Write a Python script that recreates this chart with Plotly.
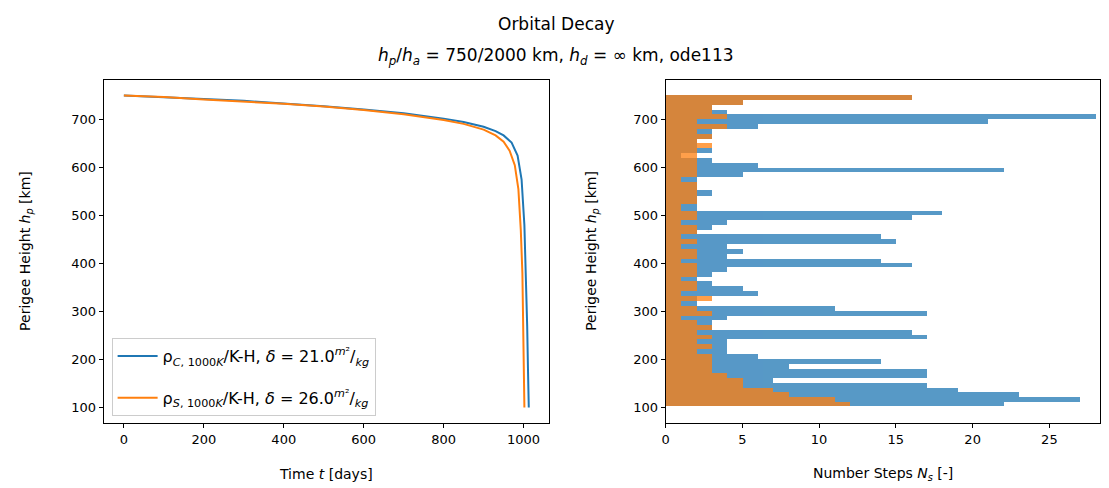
import plotly.graph_objects as go

# ---------------- data ----------------
# Left panel: perigee height vs time
t_blue = [0, 100, 200, 300, 400, 500, 600, 700, 800, 850, 900, 930, 950, 970, 985, 995, 1002, 1006, 1009, 1011, 1013]
h_blue = [750, 747, 743, 739, 734, 728, 721, 713, 702, 695, 685, 676, 667, 652, 625, 575, 480, 380, 270, 180, 100]
t_orange = [0, 100, 200, 300, 400, 500, 600, 700, 800, 850, 900, 930, 950, 965, 978, 987, 993, 997, 999, 1000.5, 1002]
h_orange = [750, 747, 742, 738, 733, 727, 720, 711, 699, 691, 679, 667, 654, 635, 605, 555, 470, 380, 270, 180, 100]

# Right panel: histogram of step heights (bin edges in km, counts)
edges_km = [750.7, 740.3, 729.9, 719.5, 710.8, 700.4, 690.4, 680.0, 670.3, 659.9, 650.5, 641.2,
            630.8, 620.4, 610.0, 599.6, 590.6, 580.9, 569.9, 553.9, 539.9, 523.7, 510.2, 500.4,
            491.5, 481.1, 470.7, 461.3, 450.9, 441.0, 430.6, 420.8, 410.4, 400.0, 393.1, 381.9,
            372.3, 363.2, 352.8, 342.4, 332.0, 321.6, 311.2, 301.7, 290.9, 281.5, 271.1, 260.7,
            251.8, 243.0, 231.6, 221.2, 212.3, 201.9, 191.5, 181.1, 170.7, 160.9, 150.5, 139.5,
            131.2, 122.0, 111.6, 102.7]
steps_blue = [16, 5, 3, 4, 28, 21, 6, 3, 3, 2, 2, 3, 1, 3, 6, 22, 5, 2, 2, 3, 2, 2, 18, 16, 4, 3, 2,
              14, 15, 4, 5, 4, 14, 16, 4, 3, 2, 3, 5, 6, 2, 2, 11, 17, 4, 3, 3, 16, 17, 4, 4, 4, 6,
              14, 8, 17, 17, 7, 17, 19, 23, 27, 22]
steps_orange = [16, 5, 3, 3, 4, 2, 4, 2, 3, 2, 3, 2, 2, 2, 2, 2, 2, 1, 2, 2, 2, 1, 2, 2, 1, 2, 2,
                1, 2, 1, 2, 2, 1, 2, 2, 2, 1, 2, 2, 1, 3, 1, 2, 3, 1, 2, 3, 2, 3, 2, 3, 2, 3, 3, 3,
                3, 4, 5, 5, 7, 8, 11, 12]

label_blue = "ρ<sub><i>C</i>, 1000<i>K</i></sub>/K-H, <i>δ</i> = 21.0<sup><i>m</i>²</sup>/<sub><i>kg</i></sub>"
label_orange = "ρ<sub><i>S</i>, 1000<i>K</i></sub>/K-H, <i>δ</i> = 26.0<sup><i>m</i>²</sup>/<sub><i>kg</i></sub>"

BLUE = "#1f77b4"
ORANGE = "#ff7f0e"

# ---------------- figure ----------------
W, H = 1109, 488
fig = go.Figure()

fig.add_trace(go.Scatter(x=t_blue, y=h_blue, mode="lines", line=dict(color=BLUE, width=2),
                         name=label_blue, legendgroup="a", xaxis="x", yaxis="y"))
fig.add_trace(go.Scatter(x=t_orange, y=h_orange, mode="lines", line=dict(color=ORANGE, width=2),
                         name=label_orange, legendgroup="b", xaxis="x", yaxis="y"))

centers = [(edges_km[i] + edges_km[i + 1]) / 2 for i in range(len(edges_km) - 1)]
widths = [edges_km[i] - edges_km[i + 1] for i in range(len(edges_km) - 1)]

fig.add_trace(go.Bar(y=centers, x=steps_blue, width=widths, orientation="h", base=0,
                     marker=dict(color=BLUE, line=dict(width=0)), opacity=0.75,
                     showlegend=False, xaxis="x2", yaxis="y2"))
fig.add_trace(go.Bar(y=centers, x=steps_orange, width=widths, orientation="h", base=0,
                     marker=dict(color=ORANGE, line=dict(width=0)), opacity=0.75,
                     showlegend=False, xaxis="x2", yaxis="y2"))

def px(x):
    return x / W

def py(y):
    return 1 - y / H

axis_common = dict(showline=True, linecolor="black", linewidth=1, mirror=True, ticks="outside",
                   ticklen=4, tickcolor="black", showgrid=False, zeroline=False,
                   tickfont=dict(family="DejaVu Sans", size=13, color="black"))

fig.update_layout(
    width=W, height=H,
    margin=dict(l=0, r=0, t=0, b=0),
    paper_bgcolor="white", plot_bgcolor="white",
    barmode="overlay", bargap=0,
    font=dict(family="DejaVu Sans", size=13, color="black"),
    xaxis=dict(domain=[px(100), px(547)], range=[-50.65, 1063.65], tickvals=[0, 200, 400, 600, 800, 1000],
               anchor="y", **axis_common),
    yaxis=dict(domain=[py(423), py(80)], range=[67.5, 782.5], tickvals=[100, 200, 300, 400, 500, 600, 700],
               anchor="x", **axis_common),
    xaxis2=dict(domain=[px(664), px(1100)], range=[0, 28.3], tickvals=[0, 5, 10, 15, 20, 25],
                anchor="y2", **axis_common),
    yaxis2=dict(domain=[py(423), py(80)], range=[67.5, 782.5], tickvals=[100, 200, 300, 400, 500, 600, 700],
                anchor="x2", **axis_common),
    legend=dict(x=px(108), y=py(416), xanchor="left", yanchor="bottom",
                bgcolor="rgba(255,255,255,0.8)", bordercolor="#cccccc", borderwidth=1,
                font=dict(family="DejaVu Sans", size=16, color="black"),
                itemwidth=40, tracegroupgap=18),
    showlegend=True,
)

ann_font = dict(family="DejaVu Sans", size=14, color="black")
annotations = [
    dict(text="Orbital Decay", x=px(554), y=py(24), xref="paper", yref="paper",
         showarrow=False, xanchor="center", yanchor="middle",
         font=dict(family="DejaVu Sans", size=17, color="black")),
    dict(text="<i>h</i><sub><i>p</i></sub>/<i>h</i><sub><i>a</i></sub> = 750/2000 km, "
              "<i>h</i><sub><i>d</i></sub> = ∞ km, ode113",
         x=px(554), y=py(56), xref="paper", yref="paper",
         showarrow=False, xanchor="center", yanchor="middle",
         font=dict(family="DejaVu Sans", size=17, color="black")),
    dict(text="Time <i>t</i> [days]", x=px(323), y=py(474), xref="paper", yref="paper",
         showarrow=False, xanchor="center", yanchor="middle", font=ann_font),
    dict(text="Number Steps <i>N</i><sub><i>s</i></sub> [-]", x=px(882), y=py(474), xref="paper", yref="paper",
         showarrow=False, xanchor="center", yanchor="middle", font=ann_font),
    dict(text="Perigee Height <i>h</i><sub><i>p</i></sub> [km]", x=px(22), y=py(251), xref="paper", yref="paper",
         showarrow=False, xanchor="center", yanchor="middle", textangle=-90, font=ann_font),
    dict(text="Perigee Height <i>h</i><sub><i>p</i></sub> [km]", x=px(590), y=py(251), xref="paper", yref="paper",
         showarrow=False, xanchor="center", yanchor="middle", textangle=-90, font=ann_font),
]
fig.update_layout(annotations=annotations)

fig.write_html("out.html")
